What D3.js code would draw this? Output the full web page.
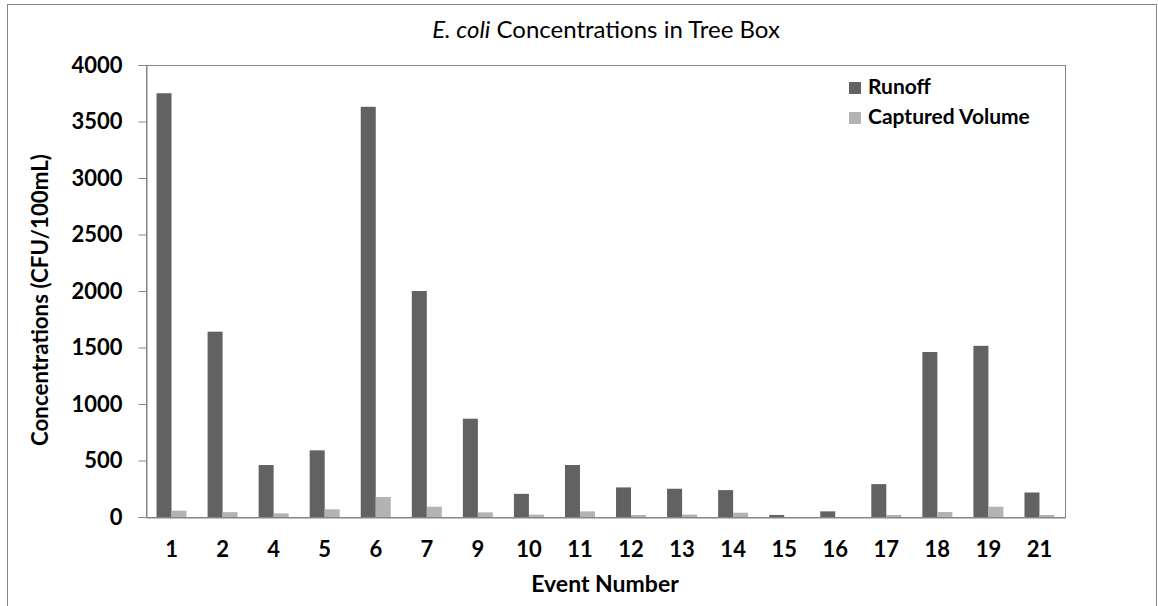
<!DOCTYPE html>
<html>
    <head>
        <meta charset="utf-8">
        <style>
            body { margin: 0; background: #fff; }
            svg text { font-family: Lato, "Liberation Sans", sans-serif; fill: #000; }
        </style>
    </head>
    <body>
        <svg width="1158" height="606"></svg>
        <script src="https://unpkg.com/d3@7/dist/d3.min.js"></script>
        <script>
            // event numbers on the x axis
            const events = ['1', '2', '4', '5', '6', '7', '9', '10', '11', '12', '13', '14', '15', '16', '17', '18', '19', '21'];
            // CFU/100mL
            const runoff = [3750, 1640, 460, 590, 3630, 2000, 870, 205, 460, 262, 250, 238, 18, 50, 291, 1460, 1515, 217];
            const captured = [56, 43, 32, 68, 177, 91, 41, 21, 50, 18, 21, 38, 0, 0, 18, 44, 91, 18];
            const seriesNames = ['Runoff', 'Captured Volume'];
            const seriesColors = ['#626262', '#b3b3b3'];
            const yTicks = [0, 500, 1000, 1500, 2000, 2500, 3000, 3500, 4000];

            const svg = d3.select('svg');
            const lineColor = '#868686';
            const font = 'Lato, "Liberation Sans", sans-serif';

            const plot = { left: 146, top: 65, right: 1065, bottom: 517 };

            // outer chart frame
            svg.append('rect')
                .attr('x', 7.5).attr('y', 4.5)
                .attr('width', 1149).attr('height', 700)
                .attr('fill', 'none').attr('stroke', lineColor);

            const x0 = d3.scaleBand()
                .domain(events)
                .range([plot.left, plot.right])
                .paddingInner(0.4124)
                .paddingOuter(0.2062);

            const x1 = d3.scaleBand()
                .domain(seriesNames)
                .range([0, x0.bandwidth()]);

            const y = d3.scaleLinear()
                .domain([0, 4000])
                .range([plot.bottom, plot.top]);

            const rows = events.map((e, i) => ({ event: e, values: [runoff[i], captured[i]] }));

            // plot area border
            svg.append('rect')
                .attr('x', plot.left + 0.5).attr('y', plot.top + 0.5)
                .attr('width', plot.right - plot.left).attr('height', plot.bottom - plot.top)
                .attr('fill', 'none').attr('stroke', lineColor);

            const groups = svg.append('g').selectAll('g')
                .data(rows)
                .enter().append('g')
                .attr('transform', d => `translate(${x0(d.event)},0)`);

            groups.selectAll('rect')
                .data(d => d.values.map((v, i) => ({ name: seriesNames[i], value: v, color: seriesColors[i] })))
                .enter().append('rect')
                .attr('x', d => x1(d.name))
                .attr('width', x1.bandwidth())
                .attr('y', d => y(d.value))
                .attr('height', d => y(0) - y(d.value))
                .attr('fill', d => d.color);

            // y axis
            const yAxis = svg.append('g')
                .attr('transform', `translate(${plot.left + 0.5},0)`)
                .call(d3.axisLeft(y).tickValues(yTicks).tickFormat(d3.format('d')).tickSize(8).tickPadding(16));
            yAxis.select('.domain').attr('stroke', lineColor);
            yAxis.selectAll('line').attr('stroke', lineColor);
            yAxis.selectAll('text')
                .attr('font-size', 22).attr('font-weight', 'bold')
                .style('font-family', font);

            // x axis, no tick marks
            const xAxis = svg.append('g')
                .attr('transform', `translate(0,${plot.bottom + 0.5})`)
                .call(d3.axisBottom(x0).tickSize(0).tickPadding(24));
            xAxis.select('.domain').attr('stroke', lineColor);
            xAxis.selectAll('text')
                .attr('font-size', 22).attr('font-weight', 'bold')
                .style('font-family', font);

            // title
            const title = svg.append('text')
                .attr('x', 606).attr('y', 38)
                .attr('text-anchor', 'middle')
                .attr('font-size', 24);
            title.append('tspan').attr('font-style', 'italic').text('E. coli');
            title.append('tspan').text(' Concentrations in Tree Box');

            svg.append('text')
                .attr('x', 605).attr('y', 592)
                .attr('text-anchor', 'middle')
                .attr('font-size', 23).attr('font-weight', 'bold')
                .text('Event Number');

            svg.append('text')
                .attr('transform', 'translate(48,300) rotate(-90)')
                .attr('text-anchor', 'middle')
                .attr('font-size', 22.3).attr('font-weight', 'bold')
                .text('Concentrations (CFU/100mL)');

            // legend
            const legend = svg.append('g').attr('transform', 'translate(849,82)');
            const items = legend.selectAll('g')
                .data(seriesNames)
                .enter().append('g')
                .attr('transform', (d, i) => `translate(0,${i * 30})`);
            items.append('rect')
                .attr('width', 12).attr('height', 12)
                .attr('fill', (d, i) => seriesColors[i]);
            items.append('text')
                .attr('x', 19).attr('y', 12)
                .attr('font-size', 21).attr('font-weight', 'bold')
                .text(d => d);
        </script>
    </body>
</html>
